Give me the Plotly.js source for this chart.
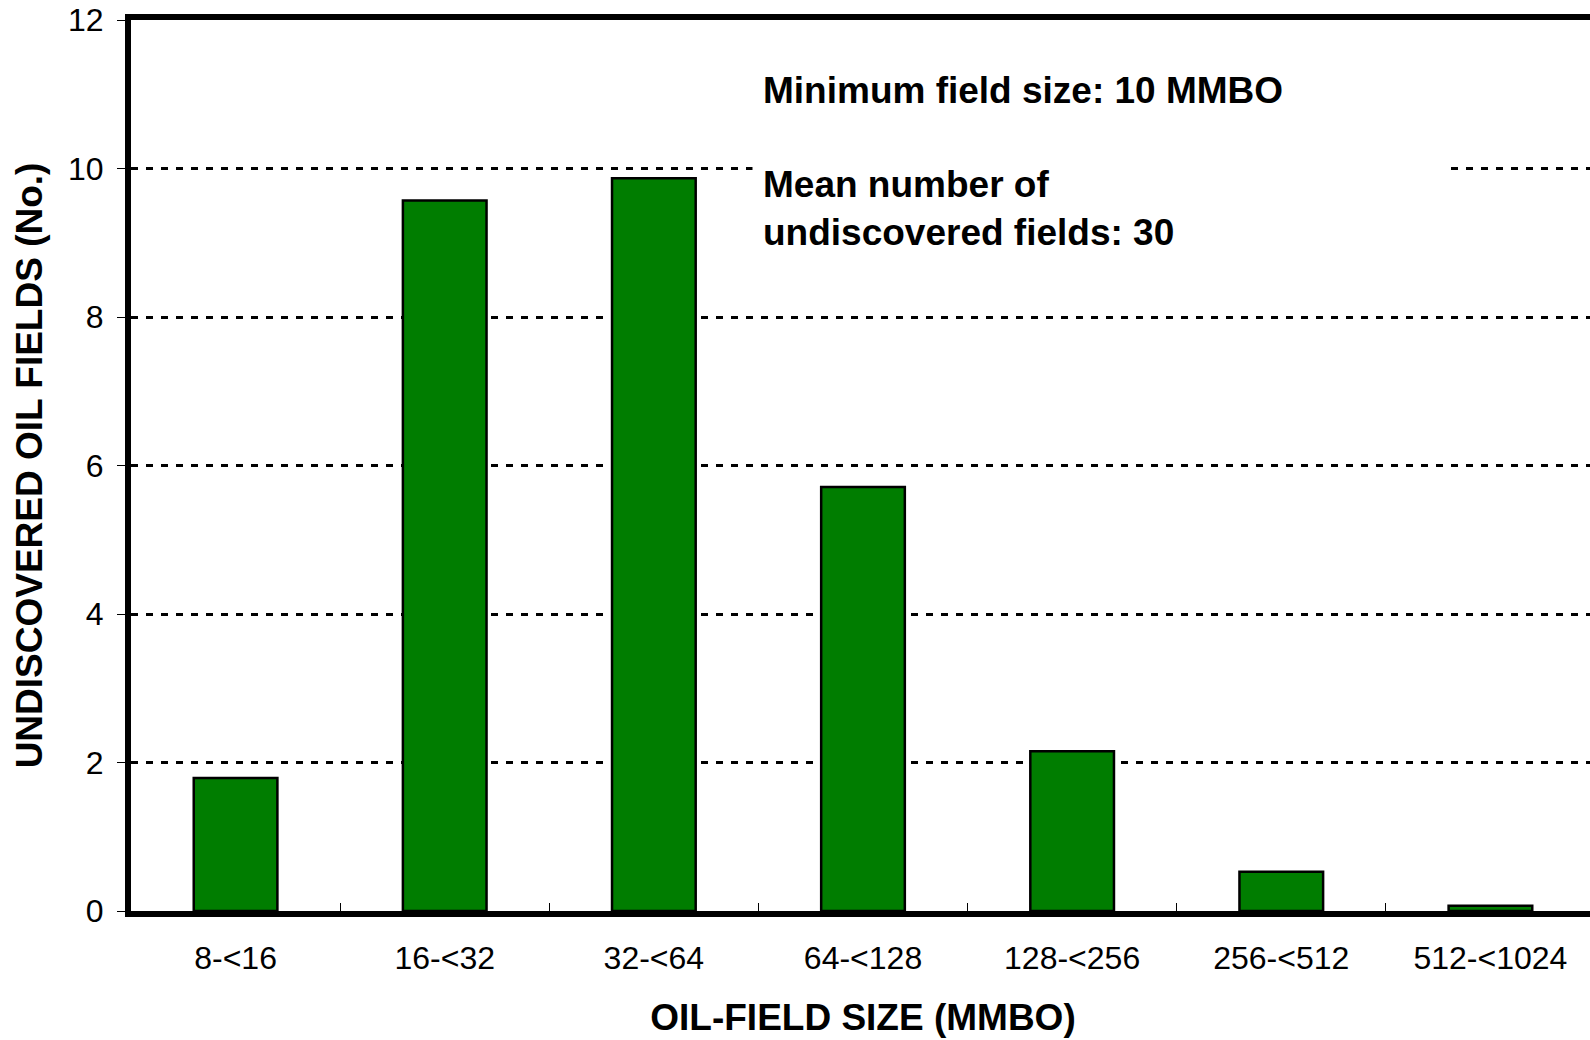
<!DOCTYPE html>
<html>
<head>
<meta charset="utf-8">
<script src="https://cdn.plot.ly/plotly-3.0.1.min.js"></script>
<style>
html,body{margin:0;padding:0;overflow:hidden;background:#fff;}
#chart{width:1600px;height:1040px;}
</style>
</head>
<body>
<div id="chart"></div>
<script>
const categories = ["8-<16", "16-<32", "32-<64", "64-<128", "128-<256", "256-<512", "512-<1024"];
const fieldCounts = [1.79, 9.57, 9.87, 5.71, 2.15, 0.53, 0.07];
const yTicks = [0, 2, 4, 6, 8, 10, 12];
const noteMinText = "Minimum field size: 10 MMBO";
const noteMeanText = "Mean number of<br>undiscovered fields: 30";
const xTitle = "OIL-FIELD SIZE (MMBO)";
const yTitle = "UNDISCOVERED OIL FIELDS (No.)";

const FONT = '"Liberation Sans", Arial, Helvetica, sans-serif';

const trace = {
  type: 'bar',
  x: categories,
  y: fieldCounts,
  marker: {color: 'rgb(0,125,0)', line: {color: '#000', width: 2.5}},
  hoverinfo: 'x+y'
};

const noteFont = {family: FONT, size: 37, color: '#000', weight: 'bold'};

const layout = {
  width: 1600,
  height: 1040,
  margin: {l: 131, r: 5, t: 20, b: 129, pad: 0},
  paper_bgcolor: '#fff',
  plot_bgcolor: '#fff',
  showlegend: false,
  bargap: 0.6,
  font: {family: FONT, color: '#000'},
  xaxis: {
    type: 'category',
    showline: true, linecolor: '#000', linewidth: 6, mirror: true,
    ticks: 'inside', tickson: 'boundaries', ticklen: 8, tickwidth: 1, tickcolor: '#000',
    tickfont: {family: FONT, size: 32, color: '#000'},
    ticklabelstandoff: 14,
    showgrid: false, zeroline: false,
    title: {text: xTitle, font: {family: FONT, size: 37, color: '#000', weight: 'bold'}, standoff: 31},
    automargin: false
  },
  yaxis: {
    range: [0, 12],
    tickvals: yTicks,
    ticktext: yTicks.map(String),
    showline: true, linecolor: '#000', linewidth: 6, mirror: true,
    ticks: 'outside', ticklen: 8, tickwidth: 1, tickcolor: '#000',
    tickfont: {family: FONT, size: 32, color: '#000'},
    ticklabelstandoff: 7,
    showgrid: true, gridcolor: '#000', gridwidth: 3, griddash: '7px,8px',
    zeroline: false,
    title: {text: yTitle, font: {family: FONT, size: 37, color: '#000', weight: 'bold'}, standoff: 16},
    automargin: false
  },
  annotations: [{
    xref: 'paper', yref: 'paper',
    x: 0.4242, y: 0.9214,
    xanchor: 'left', yanchor: 'middle',
    text: noteMinText,
    showarrow: false,
    align: 'left',
    width: 676,
    borderpad: 10,
    font: noteFont
  }, {
    xref: 'paper', yref: 'paper',
    x: 0.4242, y: 0.789,
    xanchor: 'left', yanchor: 'middle',
    text: noteMeanText,
    showarrow: false,
    align: 'left',
    width: 676,
    bgcolor: '#fff',
    borderpad: 10,
    font: noteFont
  }]
};

Plotly.newPlot('chart', [trace], layout, {displayModeBar: false, staticPlot: true});
</script>
</body>
</html>
